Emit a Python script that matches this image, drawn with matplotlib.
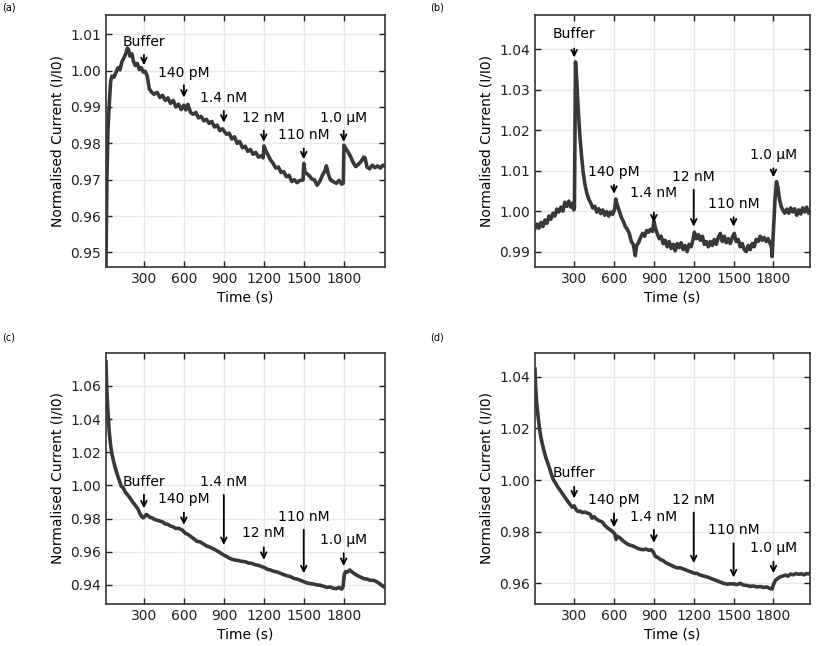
import numpy as np
import matplotlib
matplotlib.use('Agg')
import matplotlib.pyplot as plt

# ---- data (time in s, normalised current I/I0) ----
t_a = [15, 22, 30, 40, 50, 60, 75, 90, 105, 120, 135, 150, 165, 175, 185, 195, 210, 222, 235, 250,
       265, 280, 295, 310, 325, 340, 355, 375, 400, 420, 440, 460, 480, 500, 520, 540, 560, 580, 600, 615,
       630, 650, 670, 690, 710, 730, 750, 770, 790, 810, 830, 850, 870, 890, 905, 920, 940, 960, 980, 1000,
       1020, 1040, 1060, 1080, 1100, 1120, 1140, 1160, 1180, 1195, 1202, 1215, 1232, 1250, 1270, 1290, 1310, 1330, 1350, 1370,
       1390, 1410, 1430, 1450, 1470, 1495, 1500, 1510, 1525, 1545, 1560, 1580, 1600, 1620, 1640, 1660, 1670, 1685, 1700, 1720,
       1745, 1765, 1785, 1797, 1802, 1815, 1830, 1850, 1870, 1890, 1910, 1930, 1950, 1960, 1975, 1995, 2015, 2035, 2055, 2075,
       2095, 2110]
i_a = [0.946, 0.970, 0.984, 0.991, 0.997, 0.9985, 0.9982, 0.9995, 1.0008, 1.0002, 1.0025, 1.0035, 1.0048, 1.0062, 1.0058, 1.0040, 1.0046, 1.0025, 1.0014, 1.0020,
       1.0003, 1.0008, 0.9996, 0.9998, 0.9985, 0.9950, 0.9942, 0.9935, 0.9940, 0.9926, 0.9932, 0.9918, 0.9925, 0.9910, 0.9918, 0.9900, 0.9908, 0.9893, 0.9905, 0.9892,
       0.9907, 0.9885, 0.9880, 0.9885, 0.9870, 0.9874, 0.9862, 0.9866, 0.9855, 0.9860, 0.9845, 0.9850, 0.9835, 0.9840, 0.9832, 0.9825, 0.9828, 0.9812, 0.9818, 0.9800,
       0.9805, 0.9788, 0.9792, 0.9778, 0.9783, 0.9770, 0.9775, 0.9762, 0.9766, 0.9760, 0.9793, 0.9780, 0.9768, 0.9755, 0.9745, 0.9732, 0.9735, 0.9720, 0.9722, 0.9708,
       0.9712, 0.9695, 0.9700, 0.9692, 0.9698, 0.9699, 0.9745, 0.9720, 0.9716, 0.9710, 0.9702, 0.9700, 0.9685, 0.9695, 0.9712, 0.9725, 0.9738, 0.9715, 0.9700, 0.9695,
       0.9690, 0.9698, 0.9688, 0.9690, 0.9795, 0.9786, 0.9778, 0.9765, 0.9748, 0.9736, 0.9742, 0.9750, 0.9762, 0.9760, 0.9735, 0.9730, 0.9740, 0.9733, 0.9738, 0.9732,
       0.9740, 0.9738]

t_b = [5, 20, 35, 50, 65, 80, 95, 110, 125, 140, 155, 170, 185, 200, 215, 230, 245, 260, 275, 290,
       298, 302, 310, 320, 330, 342, 355, 367, 380, 395, 410, 425, 440, 455, 470, 485, 500, 515, 530, 545,
       560, 575, 590, 605, 613, 625, 640, 655, 670, 685, 700, 715, 730, 745, 760, 770, 785, 800, 815, 830,
       845, 860, 875, 890, 900, 912, 925, 940, 955, 970, 985, 1000, 1015, 1030, 1045, 1060, 1075, 1090, 1105, 1120,
       1135, 1150, 1165, 1180, 1195, 1205, 1220, 1235, 1250, 1265, 1280, 1295, 1310, 1325, 1340, 1355, 1370, 1385, 1400, 1415,
       1430, 1445, 1460, 1475, 1490, 1505, 1520, 1535, 1550, 1565, 1580, 1595, 1610, 1625, 1640, 1655, 1670, 1685, 1700, 1715,
       1730, 1745, 1760, 1775, 1785, 1790, 1795, 1802, 1812, 1823, 1833, 1845, 1858, 1870, 1885, 1900, 1915, 1930, 1945, 1960,
       1975, 1990, 2005, 2020, 2035, 2050, 2065, 2075]
i_b = [0.9957, 0.9968, 0.9958, 0.9972, 0.9962, 0.9978, 0.9970, 0.9988, 0.9980, 0.9995, 0.9988, 1.0005, 0.9998, 1.0010, 1.0000, 1.0022, 1.0012, 1.0025, 1.0010, 1.0020,
       1.0003, 1.0010, 1.0369, 1.0320, 1.0254, 1.0190, 1.0139, 1.0098, 1.0068, 1.0045, 1.0030, 1.0020, 1.0008, 1.0012, 0.9998, 1.0006, 0.9994, 1.0003, 0.9990, 0.9999,
       0.9988, 0.9998, 0.9992, 1.0005, 1.0030, 1.0015, 1.0000, 0.9985, 0.9975, 0.9962, 0.9955, 0.9945, 0.9925, 0.9918, 0.9890, 0.9915, 0.9922, 0.9935, 0.9945, 0.9938,
       0.9952, 0.9948, 0.9955, 0.9950, 0.9975, 0.9958, 0.9945, 0.9932, 0.9938, 0.9920, 0.9928, 0.9912, 0.9925, 0.9908, 0.9918, 0.9902, 0.9920, 0.9910, 0.9922, 0.9905,
       0.9915, 0.9900, 0.9918, 0.9912, 0.9930, 0.9948, 0.9932, 0.9942, 0.9928, 0.9938, 0.9918, 0.9925, 0.9912, 0.9925, 0.9915, 0.9930, 0.9918, 0.9935, 0.9945, 0.9925,
       0.9938, 0.9922, 0.9932, 0.9920, 0.9935, 0.9945, 0.9925, 0.9930, 0.9912, 0.9920, 0.9905, 0.9900, 0.9915, 0.9905, 0.9920, 0.9912, 0.9930, 0.9925, 0.9938, 0.9928,
       0.9935, 0.9925, 0.9932, 0.9920, 0.9912, 0.9888, 0.9920, 0.9960, 1.0030, 1.0073, 1.0060, 1.0030, 1.0012, 1.0003, 0.9995, 1.0005, 0.9995, 1.0008, 0.9998, 1.0006,
       0.9990, 1.0003, 0.9993, 1.0008, 0.9998, 1.0010, 0.9995, 1.0000]

t_c = [15, 20, 26, 32, 40, 50, 60, 72, 85, 100, 115, 130, 145, 160, 175, 195, 215, 235, 255, 270,
       285, 295, 305, 318, 330, 345, 360, 380, 400, 420, 440, 460, 480, 500, 520, 540, 555, 570, 590, 610,
       630, 655, 680, 700, 720, 745, 770, 790, 810, 835, 860, 880, 900, 920, 940, 960, 985, 1010, 1035, 1060,
       1085, 1110, 1135, 1160, 1185, 1205, 1225, 1250, 1275, 1300, 1325, 1350, 1375, 1400, 1425, 1450, 1475, 1500, 1525, 1550,
       1575, 1600, 1625, 1650, 1675, 1700, 1720, 1745, 1765, 1785, 1795, 1805, 1815, 1830, 1845, 1860, 1880, 1900, 1925, 1950,
       1975, 2000, 2025, 2050, 2075, 2095, 2110]
i_c = [1.0745, 1.060, 1.050, 1.0415, 1.032, 1.024, 1.019, 1.0145, 1.0105, 1.0065, 1.0030, 0.9995, 0.9985, 0.9960, 0.9945, 0.9925, 0.9900, 0.9880, 0.9858, 0.9830,
       0.9810, 0.9805, 0.9812, 0.9825, 0.9818, 0.9808, 0.9805, 0.9795, 0.9790, 0.9785, 0.9780, 0.9768, 0.9765, 0.9755, 0.9750, 0.9740, 0.9742, 0.9738, 0.9730, 0.9712,
       0.9705, 0.9690, 0.9675, 0.9662, 0.9660, 0.9648, 0.9635, 0.9630, 0.9622, 0.9612, 0.9600, 0.9590, 0.9580, 0.9572, 0.9562, 0.9555, 0.9550, 0.9547, 0.9542, 0.9540,
       0.9532, 0.9530, 0.9522, 0.9518, 0.9510, 0.9505, 0.9495, 0.9490, 0.9482, 0.9478, 0.9470, 0.9462, 0.9455, 0.9450, 0.9440, 0.9435, 0.9428, 0.9420, 0.9412, 0.9408,
       0.9405, 0.9400, 0.9398, 0.9392, 0.9385, 0.9388, 0.9380, 0.9378, 0.9385, 0.9375, 0.9390, 0.9465, 0.9480, 0.9478, 0.9490, 0.9480, 0.9468, 0.9458, 0.9448, 0.9438,
       0.9435, 0.9428, 0.9428, 0.9418, 0.9405, 0.9392, 0.9385]

t_d = [5, 10, 16, 22, 30, 40, 50, 60, 72, 85, 100, 115, 130, 145, 160, 178, 195, 215, 235, 255,
       270, 285, 300, 315, 330, 345, 360, 380, 400, 420, 435, 450, 470, 490, 510, 530, 550, 570, 590, 605,
       615, 625, 640, 660, 680, 700, 720, 740, 760, 780, 800, 820, 840, 860, 880, 895, 910, 930, 950, 970,
       990, 1010, 1030, 1050, 1075, 1100, 1125, 1150, 1175, 1200, 1225, 1250, 1275, 1300, 1325, 1350, 1375, 1400, 1425, 1450,
       1475, 1500, 1525, 1550, 1575, 1600, 1625, 1650, 1675, 1700, 1725, 1750, 1775, 1790, 1800, 1815, 1830, 1850, 1870, 1890,
       1910, 1930, 1950, 1970, 1990, 2010, 2030, 2050, 2075]
i_d = [1.0430, 1.0360, 1.0310, 1.0275, 1.0240, 1.0195, 1.0165, 1.0140, 1.0115, 1.0090, 1.0068, 1.0045, 1.0020, 1.0000, 0.9988, 0.9972, 0.9960, 0.9945, 0.9930, 0.9915,
       0.9905, 0.9895, 0.9900, 0.9885, 0.9878, 0.9880, 0.9874, 0.9876, 0.9872, 0.9868, 0.9852, 0.9858, 0.9848, 0.9842, 0.9838, 0.9825, 0.9815, 0.9808, 0.9800, 0.9792,
       0.9770, 0.9782, 0.9778, 0.9768, 0.9760, 0.9752, 0.9748, 0.9745, 0.9740, 0.9735, 0.9732, 0.9730, 0.9733, 0.9728, 0.9730, 0.9722, 0.9705, 0.9700, 0.9692, 0.9688,
       0.9680, 0.9675, 0.9670, 0.9665, 0.9660, 0.9660, 0.9655, 0.9650, 0.9645, 0.9640, 0.9638, 0.9632, 0.9628, 0.9625, 0.9620, 0.9615, 0.9610, 0.9605, 0.9600, 0.9597,
       0.9598, 0.9598, 0.9595, 0.9600, 0.9593, 0.9592, 0.9588, 0.9590, 0.9586, 0.9588, 0.9584, 0.9586, 0.9580, 0.9578, 0.9595, 0.9612, 0.9618, 0.9625, 0.9628, 0.9632,
       0.9628, 0.9636, 0.9633, 0.9638, 0.9635, 0.9637, 0.9633, 0.9638, 0.9636]

# additions (labels and injection times)
add_labels = ['Buffer', '140 pM', '1.4 nM', '12 nM', '110 nM', '1.0 µM']
add_times = [300, 600, 900, 1200, 1500, 1800]

# label height, arrow tail, arrow tip (y values) for each panel
lab_a = [1.0080, 0.9994, 0.9925, 0.9871, 0.9823, 0.9871]
tail_a = [1.0043, 0.9960, 0.9889, 0.9835, 0.9786, 0.9835]
tip_a = [1.0015, 0.9926, 0.9857, 0.9804, 0.9756, 0.9804]

lab_b = [1.0437, 1.0098, 1.0046, 1.0085, 1.0018, 1.0139]
tail_b = [1.0402, 1.0065, 0.9997, 1.0053, 0.9985, 1.0106]
tip_b = [1.0380, 1.0043, 0.9972, 0.9962, 0.9962, 1.0084]

lab_c = [1.0023, 0.9917, 1.0023, 0.9712, 0.9812, 0.9671]
tail_c = [0.9943, 0.9836, 0.9943, 0.9627, 0.9732, 0.9591]
tip_c = [0.9862, 0.9762, 0.9641, 0.9551, 0.9470, 0.9514]

lab_d = [1.0026, 0.9923, 0.9856, 0.9923, 0.9807, 0.9736]
tail_d = [0.9974, 0.9871, 0.9807, 0.9874, 0.9755, 0.9684]
tip_d = [0.9929, 0.9817, 0.9757, 0.9678, 0.9623, 0.9639]

panels = [
    ('(a)', t_a, i_a, lab_a, tail_a, tip_a, (15, 2110), (0.946, 1.0153), [0.95, 0.96, 0.97, 0.98, 0.99, 1.00, 1.01]),
    ('(b)', t_b, i_b, lab_b, tail_b, tip_b, (5, 2075), (0.9862, 1.0485), [0.99, 1.00, 1.01, 1.02, 1.03, 1.04]),
    ('(c)', t_c, i_c, lab_c, tail_c, tip_c, (15, 2110), (0.9285, 1.080), [0.94, 0.96, 0.98, 1.00, 1.02, 1.04, 1.06]),
    ('(d)', t_d, i_d, lab_d, tail_d, tip_d, (5, 2075), (0.952, 1.0493), [0.96, 0.98, 1.00, 1.02, 1.04]),
]

# axes positions in figure fraction
boxes = [
    [0.1297, 0.5867, 0.3415, 0.3901],
    [0.6548, 0.5867, 0.3366, 0.3901],
    [0.1297, 0.0650, 0.3415, 0.3890],
    [0.6548, 0.0650, 0.3366, 0.3890],
]
tag_pos = [(0.003, 0.988), (0.527, 0.988), (0.003, 0.477), (0.527, 0.477)]

plt.rcParams['font.family'] = 'DejaVu Sans'
fig = plt.figure(figsize=(8.17, 6.46), dpi=100)

for (tag, t, cur, lab, tail, tip, xl, yl, yt), box, tp in zip(panels, boxes, tag_pos):
    ax = fig.add_axes(box)
    ax.plot(t, cur, color='#383838', lw=2.6, zorder=3)
    ax.set_xlim(*xl)
    ax.set_ylim(*yl)
    ax.set_xticks(add_times)
    ax.set_yticks(yt)
    ax.set_yticklabels(['%.2f' % v for v in yt])
    ax.grid(True, color='#e8e8e8', lw=1.0, zorder=0)
    ax.set_axisbelow(True)
    ax.tick_params(direction='in', top=True, right=True, length=4, width=1, labelsize=10, colors='#222222')
    for sp in ax.spines.values():
        sp.set_color('#333333')
        sp.set_linewidth(1.2)
    ax.set_xlabel('Time (s)', fontsize=10, labelpad=3)
    ax.set_ylabel('Normalised Current (I/I0)', fontsize=10, labelpad=4)
    for name, x, ly, y0, y1 in zip(add_labels, add_times, lab, tail, tip):
        ax.annotate('', xy=(x, y1), xytext=(x, y0),
                    arrowprops=dict(arrowstyle='->', lw=1.3, color='black', shrinkA=0, shrinkB=0),
                    zorder=4)
        ax.text(x, ly, name, ha='center', va='center', fontsize=10, zorder=5)
    fig.text(tp[0], tp[1], tag, fontsize=7, ha='left', va='center')

fig.savefig('out.png', dpi=100)
